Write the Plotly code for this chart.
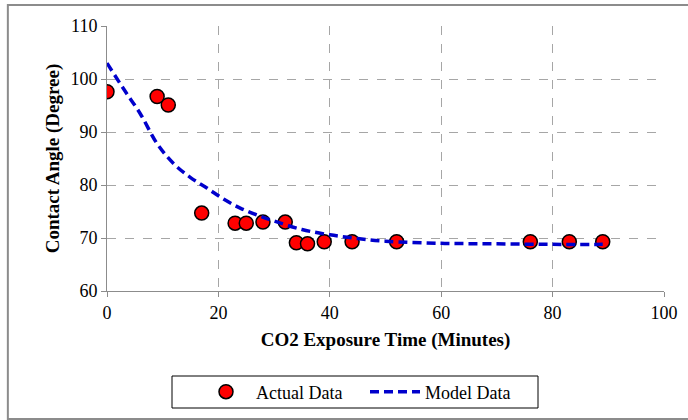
import plotly.graph_objects as go

# Actual data
actual_x = [0, 9, 11, 17, 23, 25, 28, 32, 34, 36, 39, 44, 52, 76, 83, 89]
actual_y = [97.6, 96.7, 95.1, 74.7, 72.8, 72.8, 73.0, 73.0, 69.1, 68.9, 69.3, 69.3, 69.3, 69.3, 69.3, 69.3]

# Model data
model_x = [0, 3, 6, 9, 12, 15, 18, 21, 24, 27, 30, 35, 40, 45, 50, 60, 70, 80, 89]
model_y = [103.0, 98.1, 93.4, 87.8, 84.0, 81.4, 79.4, 77.3, 75.6, 74.3, 73.2, 71.6, 70.6, 69.9, 69.4, 69.0, 68.9, 68.8, 68.8]

x_ticks = [0, 20, 40, 60, 80, 100]
y_ticks = [60, 70, 80, 90, 100, 110]

FONT = "Liberation Serif"

fig = go.Figure()
fig.add_trace(go.Scatter(
    x=actual_x, y=actual_y, mode="markers", name="Actual Data",
    marker=dict(color="#ff0000", size=14, line=dict(color="black", width=1.5)),
))
fig.add_trace(go.Scatter(
    x=model_x, y=model_y, mode="lines", name="Model Data", line_shape="spline",
    line=dict(color="#0000cc", width=3.5, dash="9px,5px"),
))

axis_common = dict(
    showline=True, linecolor="#8c8c8c", linewidth=1,
    ticks="outside", ticklen=5, tickcolor="#8c8c8c",
    showgrid=True, gridcolor="#a6a6a6", griddash="dash", gridwidth=1,
    zeroline=False, tickfont=dict(family=FONT, size=18, color="black"),
)

fig.update_xaxes(range=[0, 100], tickvals=x_ticks,
                 title=dict(text="<b>CO2 Exposure Time (Minutes)</b>",
                            font=dict(family=FONT, size=19, color="black"), standoff=11),
                 **axis_common)
fig.update_yaxes(range=[60, 110], tickvals=y_ticks,
                 title=dict(text="<b>Contact Angle (Degree)</b>",
                            font=dict(family=FONT, size=19, color="black"), standoff=5),
                 **axis_common)

fig.update_layout(
    width=688, height=420,
    margin=dict(l=107, r=24, t=26, b=129, autoexpand=False),
    paper_bgcolor="white", plot_bgcolor="white",
    showlegend=True,
    legend=dict(orientation="h", xref="container", yref="container",
                x=196 / 688, xanchor="left", y=1 - 392 / 420, yanchor="middle",
                borderwidth=0, bgcolor="rgba(0,0,0,0)",
                font=dict(family=FONT, size=18, color="black"),
                entrywidth=104, itemwidth=50),
    shapes=[
        dict(type="rect", xref="paper", yref="paper",
             x0=-0.178, x1=1.05, y0=-0.483, y1=1.079,
             line=dict(color="#8c8c8c", width=2), layer="below"),
        dict(type="rect", xref="paper", yref="paper",
             x0=(172 - 107) / 557, x1=(538 - 107) / 557,
             y0=1 - (408 - 26) / 265, y1=1 - (376 - 26) / 265,
             line=dict(color="black", width=1), layer="below"),
    ],
)

fig.write_html("out.html")
